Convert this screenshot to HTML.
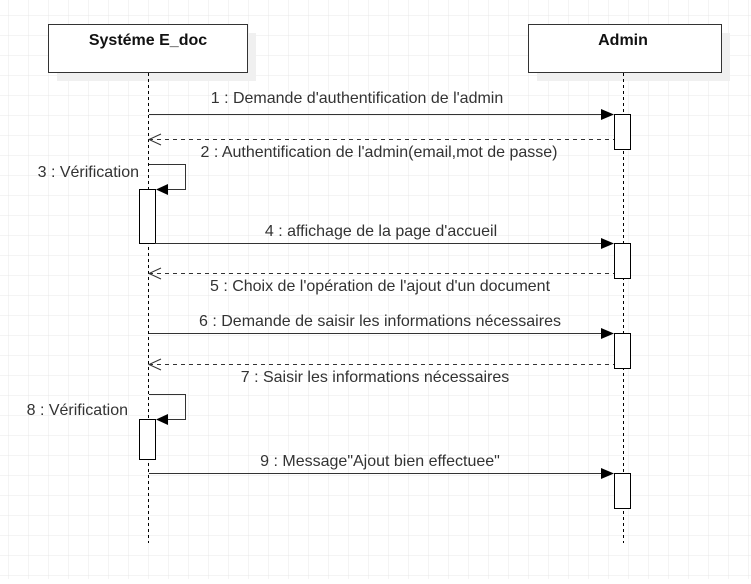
<!DOCTYPE html>
<html><head><meta charset="utf-8"><style>
html,body{margin:0;padding:0;background:#fff;}
body{width:751px;height:579px;overflow:hidden;}
svg text{font-family:"Liberation Sans",Arial,sans-serif;}
</style></head><body>
<svg width="751" height="579" xmlns="http://www.w3.org/2000/svg">
<defs>
<pattern id="g" x="8" y="15" width="20" height="20" patternUnits="userSpaceOnUse">
<path d="M20 0H0V20" fill="none" stroke="#e9e9e9" stroke-width="1"/>
</pattern>
</defs>
<rect width="751" height="579" fill="url(#g)"/>
<rect x="57" y="33" width="199" height="48" fill="#f0f0f0"/>
<rect x="537" y="33" width="193" height="48" fill="#f0f0f0"/>
<rect x="48.5" y="24.5" width="199" height="48" fill="#fff" stroke="#333"/>
<rect x="528.5" y="24.5" width="193" height="48" fill="#fff" stroke="#333"/>
<text x="148" y="45" text-anchor="middle" font-size="16" font-weight="bold" fill="#111">Systéme E_doc</text>
<text x="623" y="45" text-anchor="middle" font-size="16" font-weight="bold" fill="#111">Admin</text>
<g stroke="#000" stroke-dasharray="3,3" stroke-width="1">
<line x1="148.5" y1="73" x2="148.5" y2="543"/>
<line x1="623.5" y1="73" x2="623.5" y2="543"/>
</g>
<g fill="#fff" stroke="#000">
<rect x="614.5" y="114.5" width="16" height="35"/>
<rect x="614.5" y="243.5" width="16" height="35"/>
<rect x="614.5" y="333.5" width="16" height="35"/>
<rect x="614.5" y="473.5" width="16" height="35"/>
<rect x="139.5" y="189.5" width="16" height="54"/>
<rect x="139.5" y="419.5" width="16" height="40"/>
</g>
<g stroke="#333" fill="none">
<line x1="149" y1="114.5" x2="602" y2="114.5"/>
<line x1="155" y1="243.5" x2="602" y2="243.5"/>
<line x1="149" y1="333.5" x2="602" y2="333.5"/>
<line x1="149" y1="473.5" x2="602" y2="473.5"/>
<g stroke-dasharray="4,4">
<line x1="149" y1="139.5" x2="614" y2="139.5"/>
<line x1="149" y1="273.5" x2="614" y2="273.5"/>
<line x1="149" y1="364.5" x2="614" y2="364.5"/>
</g>
<polyline points="149,164.5 185.5,164.5 185.5,189.5 167,189.5"/>
<polyline points="149,394.5 185.5,394.5 185.5,419.5 167,419.5"/>
<polyline points="161,134 149,139.5 161,145"/>
<polyline points="161,268 149,273.5 161,279"/>
<polyline points="161,359 149,364.5 161,370"/>
</g>
<g fill="#000">
<polygon points="601,109 614,114.5 601,120"/>
<polygon points="601,238 614,243.5 601,249"/>
<polygon points="601,328 614,333.5 601,339"/>
<polygon points="601,468 614,473.5 601,479"/>
<polygon points="168,184 156,189.5 168,195"/>
<polygon points="168,414 156,419.5 168,425"/>
</g>
<g font-size="16" fill="#333" text-anchor="middle">
<text x="357" y="103">1 : Demande d'authentification de l'admin</text>
<text x="379" y="157">2 : Authentification de l'admin(email,mot de passe)</text>
<text x="381" y="236">4 : affichage de la page d'accueil</text>
<text x="380" y="291">5 : Choix de l'opération de l'ajout d'un document</text>
<text x="380" y="326">6 : Demande de saisir les informations nécessaires</text>
<text x="375" y="382">7 : Saisir les informations nécessaires</text>
<text x="380" y="466">9 : Message"Ajout bien effectuee"</text>
</g>
<g font-size="16" fill="#333" text-anchor="end">
<text x="139" y="177">3 : Vérification</text>
<text x="128" y="415">8 : Vérification</text>
</g>
</svg>
</body></html>
